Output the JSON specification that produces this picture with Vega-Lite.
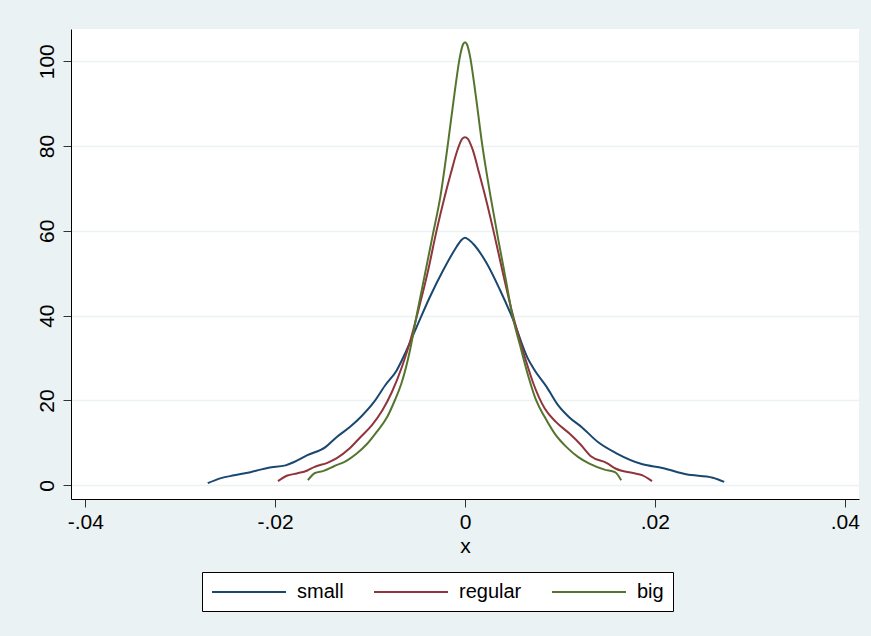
{
  "$schema": "https://vega.github.io/schema/vega-lite/v6.json",
  "width": 788,
  "height": 470,
  "autosize": {"type": "none"},
  "padding": {"left": 71, "top": 29, "right": 12, "bottom": 137},
  "background": "#EAF2F3",
  "view": {"fill": "white", "stroke": null},
  "config": {
    "font": "Liberation Sans",
    "axis": {
      "labelFont": "Liberation Sans",
      "titleFont": "Liberation Sans",
      "labelColor": "black",
      "titleColor": "black",
      "domainColor": "black",
      "domainWidth": 1,
      "tickColor": "#333333",
      "tickWidth": 1,
      "tickSize": 8,
      "gridColor": "#EAF2F3",
      "gridWidth": 1.5
    },
    "legend": {"labelFont": "Liberation Sans"}
  },
  "data": {
    "values": [
      {"group": "small", "x": -0.0271, "y": 0.5},
      {"group": "small", "x": -0.0257, "y": 1.7},
      {"group": "small", "x": -0.0243, "y": 2.35},
      {"group": "small", "x": -0.0226, "y": 3.1},
      {"group": "small", "x": -0.0207, "y": 4.15},
      {"group": "small", "x": -0.0189, "y": 4.7},
      {"group": "small", "x": -0.0180, "y": 5.5},
      {"group": "small", "x": -0.0166, "y": 7.1},
      {"group": "small", "x": -0.0147, "y": 9.0},
      {"group": "small", "x": -0.0135, "y": 11.4},
      {"group": "small", "x": -0.0121, "y": 13.8},
      {"group": "small", "x": -0.0109, "y": 16.3},
      {"group": "small", "x": -0.0096, "y": 19.6},
      {"group": "small", "x": -0.0084, "y": 23.6},
      {"group": "small", "x": -0.0072, "y": 27.1},
      {"group": "small", "x": -0.0065, "y": 30.2},
      {"group": "small", "x": -0.0051, "y": 37.3},
      {"group": "small", "x": -0.0037, "y": 44.4},
      {"group": "small", "x": -0.0023, "y": 50.7},
      {"group": "small", "x": -0.0009, "y": 56.2},
      {"group": "small", "x": -0.0004, "y": 57.8},
      {"group": "small", "x": 0.0, "y": 58.4},
      {"group": "small", "x": 0.0004, "y": 57.9},
      {"group": "small", "x": 0.0010, "y": 56.6},
      {"group": "small", "x": 0.0023, "y": 52.3},
      {"group": "small", "x": 0.0037, "y": 46.0},
      {"group": "small", "x": 0.0051, "y": 38.9},
      {"group": "small", "x": 0.0066, "y": 30.0},
      {"group": "small", "x": 0.0072, "y": 27.6},
      {"group": "small", "x": 0.0086, "y": 23.2},
      {"group": "small", "x": 0.0098, "y": 18.9},
      {"group": "small", "x": 0.0110, "y": 16.0},
      {"group": "small", "x": 0.0123, "y": 13.7},
      {"group": "small", "x": 0.0140, "y": 10.2},
      {"group": "small", "x": 0.0159, "y": 7.6},
      {"group": "small", "x": 0.0187, "y": 4.95},
      {"group": "small", "x": 0.0208, "y": 4.1},
      {"group": "small", "x": 0.0233, "y": 2.6},
      {"group": "small", "x": 0.0261, "y": 1.8},
      {"group": "small", "x": 0.0273, "y": 0.8},

      {"group": "regular", "x": -0.0197, "y": 1.0},
      {"group": "regular", "x": -0.0187, "y": 2.3},
      {"group": "regular", "x": -0.0177, "y": 2.8},
      {"group": "regular", "x": -0.0166, "y": 3.5},
      {"group": "regular", "x": -0.0159, "y": 4.3},
      {"group": "regular", "x": -0.0145, "y": 5.3},
      {"group": "regular", "x": -0.0135, "y": 6.4},
      {"group": "regular", "x": -0.0122, "y": 8.6},
      {"group": "regular", "x": -0.0110, "y": 11.4},
      {"group": "regular", "x": -0.0098, "y": 14.2},
      {"group": "regular", "x": -0.0087, "y": 17.7},
      {"group": "regular", "x": -0.0077, "y": 22.0},
      {"group": "regular", "x": -0.0066, "y": 28.2},
      {"group": "regular", "x": -0.0058, "y": 33.8},
      {"group": "regular", "x": -0.0050, "y": 40.5},
      {"group": "regular", "x": -0.0039, "y": 50.5},
      {"group": "regular", "x": -0.0030, "y": 60.0},
      {"group": "regular", "x": -0.0022, "y": 67.5},
      {"group": "regular", "x": -0.0015, "y": 73.5},
      {"group": "regular", "x": -0.0008, "y": 79.0},
      {"group": "regular", "x": -0.0003, "y": 81.7},
      {"group": "regular", "x": 0.0, "y": 82.1},
      {"group": "regular", "x": 0.0003, "y": 81.7},
      {"group": "regular", "x": 0.0008, "y": 79.2},
      {"group": "regular", "x": 0.0015, "y": 73.5},
      {"group": "regular", "x": 0.0022, "y": 67.5},
      {"group": "regular", "x": 0.0030, "y": 60.0},
      {"group": "regular", "x": 0.0040, "y": 50.0},
      {"group": "regular", "x": 0.0050, "y": 40.5},
      {"group": "regular", "x": 0.0058, "y": 34.0},
      {"group": "regular", "x": 0.0064, "y": 29.5},
      {"group": "regular", "x": 0.0072, "y": 24.0},
      {"group": "regular", "x": 0.0084, "y": 18.1},
      {"group": "regular", "x": 0.0096, "y": 14.9},
      {"group": "regular", "x": 0.0110, "y": 12.2},
      {"group": "regular", "x": 0.0121, "y": 9.8},
      {"group": "regular", "x": 0.0133, "y": 6.8},
      {"group": "regular", "x": 0.0149, "y": 5.3},
      {"group": "regular", "x": 0.0159, "y": 3.9},
      {"group": "regular", "x": 0.0177, "y": 2.9},
      {"group": "regular", "x": 0.0187, "y": 2.35},
      {"group": "regular", "x": 0.0197, "y": 1.0},

      {"group": "big", "x": -0.01655, "y": 1.2},
      {"group": "big", "x": -0.0158, "y": 2.9},
      {"group": "big", "x": -0.0149, "y": 3.4},
      {"group": "big", "x": -0.0138, "y": 4.5},
      {"group": "big", "x": -0.0124, "y": 5.9},
      {"group": "big", "x": -0.0114, "y": 7.5},
      {"group": "big", "x": -0.0103, "y": 9.8},
      {"group": "big", "x": -0.0093, "y": 12.6},
      {"group": "big", "x": -0.0082, "y": 16.1},
      {"group": "big", "x": -0.0074, "y": 20.0},
      {"group": "big", "x": -0.0067, "y": 24.0},
      {"group": "big", "x": -0.0058, "y": 31.8},
      {"group": "big", "x": -0.0051, "y": 40.0},
      {"group": "big", "x": -0.0042, "y": 50.0},
      {"group": "big", "x": -0.0034, "y": 59.0},
      {"group": "big", "x": -0.0026, "y": 68.0},
      {"group": "big", "x": -0.0018, "y": 80.5},
      {"group": "big", "x": -0.0011, "y": 92.5},
      {"group": "big", "x": -0.0005, "y": 101.5},
      {"group": "big", "x": -0.0002, "y": 104.0},
      {"group": "big", "x": 0.0, "y": 104.5},
      {"group": "big", "x": 0.0002, "y": 104.0},
      {"group": "big", "x": 0.0005, "y": 101.5},
      {"group": "big", "x": 0.0011, "y": 92.5},
      {"group": "big", "x": 0.0018, "y": 80.5},
      {"group": "big", "x": 0.0027, "y": 68.0},
      {"group": "big", "x": 0.0035, "y": 58.0},
      {"group": "big", "x": 0.0043, "y": 48.5},
      {"group": "big", "x": 0.0050, "y": 40.0},
      {"group": "big", "x": 0.0058, "y": 33.0},
      {"group": "big", "x": 0.0067, "y": 25.5},
      {"group": "big", "x": 0.0075, "y": 20.0},
      {"group": "big", "x": 0.0084, "y": 16.1},
      {"group": "big", "x": 0.00945, "y": 12.2},
      {"group": "big", "x": 0.0107, "y": 9.0},
      {"group": "big", "x": 0.0119, "y": 6.7},
      {"group": "big", "x": 0.0131, "y": 5.1},
      {"group": "big", "x": 0.0147, "y": 3.7},
      {"group": "big", "x": 0.0158, "y": 3.1},
      {"group": "big", "x": 0.01645, "y": 1.2}
    ]
  },
  "mark": {"type": "line", "strokeWidth": 2, "interpolate": "monotone"},
  "encoding": {
    "x": {
      "field": "x",
      "type": "quantitative",
      "scale": {"domain": [-0.0415, 0.0415], "nice": false, "zero": false},
      "axis": {
        "values": [-0.04, -0.02, 0, 0.02, 0.04],
        "labelExpr": "datum.value == 0 ? '0' : (datum.value < 0 ? '-' : '') + replace(format(abs(datum.value), '.2f'), '0.', '.')",
        "labelFontSize": 21,
        "labelPadding": 4,
        "labelBaseline": "top",
        "grid": false,
        "title": "x",
        "titleFontSize": 21,
        "titleFontWeight": "normal",
        "titlePadding": 3
      }
    },
    "y": {
      "field": "y",
      "type": "quantitative",
      "scale": {"domain": [-3.23, 107.6], "nice": false, "zero": false},
      "axis": {
        "values": [0, 20, 40, 60, 80, 100],
        "format": "d",
        "labelAngle": -90,
        "labelAlign": "center",
        "labelBaseline": "alphabetic",
        "labelFontSize": 21,
        "labelPadding": 10,
        "grid": true,
        "title": null
      }
    },
    "color": {
      "field": "group",
      "type": "nominal",
      "scale": {"domain": ["small", "regular", "big"], "range": ["#1A476F", "#90353B", "#55752F"]},
      "legend": {
        "title": null,
        "orient": "none",
        "legendX": 131,
        "legendY": 543,
        "direction": "horizontal",
        "fillColor": "white",
        "strokeColor": "black",
        "padding": 9,
        "symbolType": "M-1,0H6.4",
        "symbolSize": 400,
        "symbolStrokeWidth": 2,
        "labelFontSize": 20,
        "labelColor": "black",
        "labelOffset": 64,
        "columnPadding": 26
      }
    }
  }
}
